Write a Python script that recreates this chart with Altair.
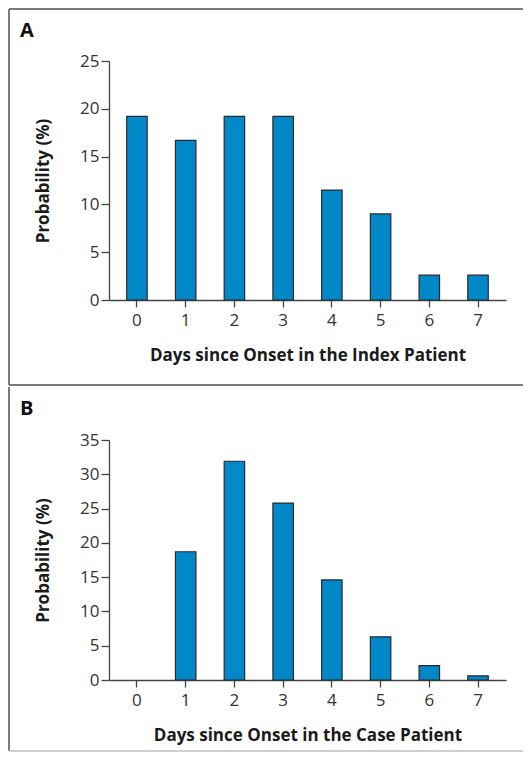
import altair as alt
import pandas as pd

days = [0, 1, 2, 3, 4, 5, 6, 7]
prob_index = [19.2, 16.7, 19.2, 19.2, 11.5, 9.0, 2.6, 2.6]
prob_case = [0.0, 18.7, 31.9, 25.8, 14.6, 6.3, 2.1, 0.6]

FONT = "Open Sans"
BAR_FILL = "#0088c8"
BAR_STROKE = "#2a2a2a"
BORDER = "#7a7a7a"
PLOT_W = 397


def panel(values, y_max, x_title, letter, height, top_off, bottom_off, bottom_color, draw_top):
    df = pd.DataFrame({"day": [str(d) for d in days], "p": values})
    bars = alt.Chart(df).mark_bar(
        fill=BAR_FILL, stroke=BAR_STROKE, strokeWidth=1.2
    ).encode(
        x=alt.X("day:O", sort=None,
                scale=alt.Scale(paddingInner=0.58, paddingOuter=0.364),
                axis=alt.Axis(title=x_title, labelAngle=0, tickSize=7,
                              labelPadding=5, titleY=55, titleBaseline="middle")),
        y=alt.Y("p:Q", scale=alt.Scale(domain=[0, y_max], nice=False),
                axis=alt.Axis(title="Probability (%)", values=list(range(0, y_max + 1, 5)),
                              tickSize=8, labelPadding=2, titleX=-66,
                              titleBaseline="middle")),
        opacity=alt.condition("datum.p > 0", alt.value(1), alt.value(0)),
    )
    one = pd.DataFrame({"k": [0]})
    left = alt.Chart(one).mark_rule(color=BORDER, strokeWidth=2).encode(
        x=alt.value(-100), y=alt.value(top_off), y2=alt.value(bottom_off))
    layers = [bars, left]
    if draw_top:
        top = alt.Chart(one).mark_rule(color=BORDER, strokeWidth=2).encode(
            x=alt.value(-100), x2=alt.value(414), y=alt.value(top_off))
        layers.append(top)
    bottom = alt.Chart(one).mark_rule(color=bottom_color, strokeWidth=2).encode(
        x=alt.value(-100), x2=alt.value(414), y=alt.value(bottom_off))
    layers.append(bottom)
    lab = alt.Chart(pd.DataFrame({"t": [letter]})).mark_text(
        font=FONT, fontSize=20, fontWeight="bold", align="left",
        baseline="middle", color="#111"
    ).encode(x=alt.value(-89), y=alt.value(top_off + 22), text="t:N")
    layers.append(lab)
    return alt.layer(*layers).properties(width=PLOT_W, height=height)


a = panel(prob_index, 25, "Days since Onset in the Index Patient", "A", 239, -52, 324, BORDER, True)
b = panel(prob_case, 35, "Days since Onset in the Case Patient", "B", 240, -53, 311, "#cfcfcf", False)

chart = alt.vconcat(a, b, spacing=0).properties(padding=0).configure_view(
    stroke=None
).configure_axis(
    grid=False,
    labelFont=FONT, labelFontSize=17, labelColor="#333",
    titleFont=FONT, titleFontSize=17, titleFontWeight="bold", titleColor="#1a1a1a",
    domainColor="#444", tickColor="#444", domainWidth=1.3, tickWidth=1.3,
)

chart.save("out.html", embed_options={"renderer": "svg", "actions": False})
